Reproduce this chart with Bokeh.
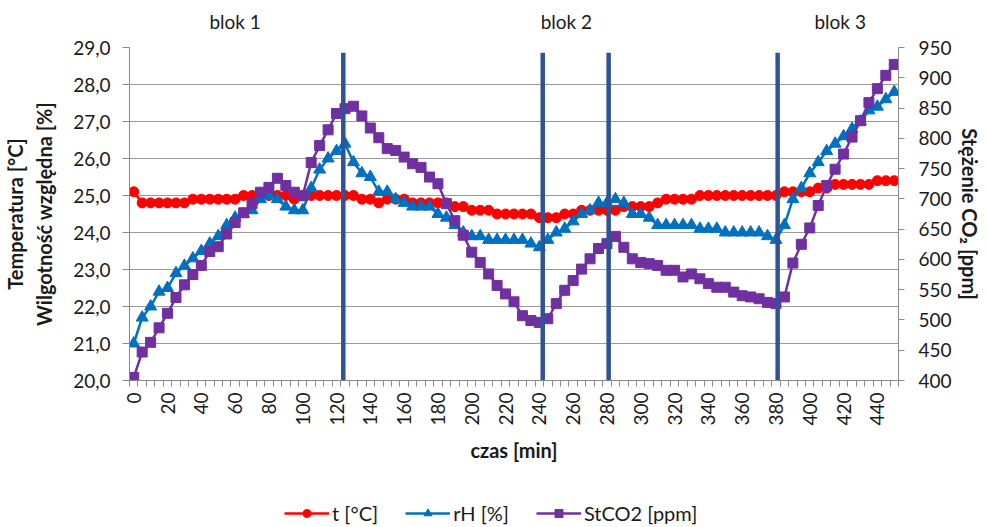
import numpy as np
from bokeh.plotting import figure
from bokeh.layouts import column
from bokeh.models import (Range1d, LinearAxis, FixedTicker, CustomJSTickFormatter,
                          Legend, LegendItem, ColumnDataSource)
from bokeh.embed import file_html
from bokeh.resources import INLINE

# ---------------- data ----------------
time_min = list(range(0, 451, 5))  # categories: 0..450 min every 5 min

temp = [25.1, 24.8, 24.8, 24.8, 24.8, 24.8, 24.8, 24.9, 24.9, 24.9,
        24.9, 24.9, 24.9, 25.0, 25.0, 25.0, 25.0, 25.0, 25.0, 24.9,
        25.0, 25.0, 25.0, 25.0, 25.0, 25.0, 25.0, 24.9, 24.9, 24.8,
        24.9, 24.9, 24.9, 24.8, 24.8, 24.8, 24.8, 24.8, 24.7, 24.7,
        24.6, 24.6, 24.6, 24.5, 24.5, 24.5, 24.5, 24.5, 24.4, 24.4,
        24.4, 24.5, 24.5, 24.6, 24.6, 24.6, 24.6, 24.6, 24.7, 24.7,
        24.7, 24.7, 24.8, 24.9, 24.9, 24.9, 24.9, 25.0, 25.0, 25.0,
        25.0, 25.0, 25.0, 25.0, 25.0, 25.0, 25.0, 25.1, 25.1, 25.1,
        25.1, 25.2, 25.2, 25.3, 25.3, 25.3, 25.3, 25.3, 25.4, 25.4,
        25.4]

rh = [21.0, 21.7, 22.0, 22.4, 22.5, 22.9, 23.1, 23.3, 23.5, 23.7,
      23.9, 24.2, 24.4, 24.5, 24.6, 24.9, 25.0, 24.9, 24.7, 24.6,
      24.6, 25.2, 25.7, 26.0, 26.2, 26.4, 25.9, 25.6, 25.5, 25.1,
      25.1, 24.9, 24.8, 24.7, 24.7, 24.7, 24.5, 24.4, 24.2, 24.0,
      23.9, 23.9, 23.8, 23.8, 23.8, 23.8, 23.8, 23.7, 23.6, 23.8,
      24.0, 24.1, 24.3, 24.5, 24.6, 24.8, 24.8, 24.9, 24.8, 24.5,
      24.5, 24.4, 24.2, 24.2, 24.2, 24.2, 24.2, 24.1, 24.1, 24.1,
      24.0, 24.0, 24.0, 24.0, 24.0, 23.9, 23.8, 24.2, 24.9, 25.2,
      25.6, 25.9, 26.2, 26.4, 26.6, 26.8, 27.0, 27.3, 27.4, 27.6,
      27.8]

co2 = [405, 447, 463, 487, 511, 537, 558, 575, 590, 613,
       621, 642, 661, 677, 692, 711, 719, 734, 722, 711,
       705, 760, 788, 814, 841, 849, 853, 837, 817, 801,
       783, 780, 769, 758, 752, 736, 725, 692, 664, 640,
       612, 595, 576, 557, 543, 530, 507, 499, 496, 502,
       527, 549, 565, 584, 601, 618, 626, 638, 620, 601,
       595, 593, 590, 582, 582, 571, 576, 568, 560, 554,
       554, 546, 540, 538, 535, 529, 527, 538, 594, 625,
       652, 689, 722, 749, 774, 802, 829, 859, 882, 904,
       922]

left_ticks = [20, 21, 22, 23, 24, 25, 26, 27, 28, 29]
right_ticks = [400, 450, 500, 550, 600, 650, 700, 750, 800, 850, 900, 950]
x_label_ticks = list(range(0, 441, 20))

block_lines = [124, 242, 281, 381]
block_labels = ["blok 1", "blok 2", "blok 3"]
block_label_x = [60, 256, 418]

series_names = ["t [°C]", "rH [%]", "StCO2 [ppm]"]
series_cols = ["temp", "rh", "co2"]

# ---------------- style ----------------
FONT = "Lato"
TXT = "#1a1a1a"
RED = "#FF0000"
BLUE = "#0070C0"
PURPLE = "#7030A0"
BLOCK = "#2F5496"
GRID = "#9a9a9a"
AX = "#8a8a8a"
TICK_FS = "19px"
TITLE_FS = "20px"

p = figure(width=988, height=494,
           x_range=Range1d(-2.5, 452.5), y_range=Range1d(20, 29),
           output_backend="svg", toolbar_location=None,
           min_border_left=128, min_border_right=90,
           min_border_top=47, min_border_bottom=114,
           background_fill_color="white", border_fill_color="white")
p.outline_line_color = None
p.extra_y_ranges = {"co2": Range1d(400, 950)}

# grid
p.xgrid.visible = False
p.ygrid.grid_line_color = GRID
p.ygrid.grid_line_width = 1
p.ygrid.ticker = FixedTicker(ticks=left_ticks)

# left axis
ya = p.yaxis[0]
ya.ticker = FixedTicker(ticks=left_ticks)
ya.formatter = CustomJSTickFormatter(code="return tick.toFixed(1).replace('.', ',');")
ya.axis_label = "Temperatura [°C]\nWilgotność względna [%]"
ya.axis_label_text_font = FONT
ya.axis_label_text_font_style = "bold"
ya.axis_label_text_font_size = TITLE_FS
ya.axis_label_text_color = TXT
ya.axis_label_standoff = 14
ya.major_label_text_font = FONT
ya.major_label_text_font_size = TICK_FS
ya.major_label_text_color = TXT
ya.major_label_standoff = 12
ya.major_tick_out = 7
ya.major_tick_in = 0
ya.minor_tick_out = 0
ya.minor_tick_in = 0
ya.axis_line_color = AX
ya.major_tick_line_color = AX

# bottom axis
xa = p.xaxis[0]
minor = [-2.5 + 5 * k for k in range(92)]
xa.ticker = FixedTicker(ticks=x_label_ticks, minor_ticks=minor)
xa.major_label_orientation = np.pi / 2
xa.major_label_text_font = FONT
xa.major_label_text_font_size = TICK_FS
xa.major_label_text_color = TXT
xa.major_label_standoff = 6
xa.major_tick_out = 0
xa.major_tick_in = 0
xa.minor_tick_out = 6
xa.minor_tick_in = 0
xa.minor_tick_line_color = AX
xa.axis_line_color = AX
xa.axis_label = "czas [min]"
xa.axis_label_text_font = FONT
xa.axis_label_text_font_style = "bold"
xa.axis_label_text_font_size = TITLE_FS
xa.axis_label_text_color = TXT
xa.axis_label_standoff = 9

# right axis
ra = LinearAxis(y_range_name="co2", ticker=FixedTicker(ticks=right_ticks),
                axis_label="Stężenie CO₂ [ppm]")
ra.axis_label_text_font = FONT
ra.axis_label_text_font_style = "bold"
ra.axis_label_text_font_size = TITLE_FS
ra.axis_label_text_color = TXT
ra.axis_label_standoff = 3
ra.major_label_text_font = FONT
ra.major_label_text_font_size = TICK_FS
ra.major_label_text_color = TXT
ra.major_label_standoff = 14
ra.major_tick_out = 6
ra.major_tick_in = 0
ra.minor_tick_out = 0
ra.minor_tick_in = 0
ra.axis_line_color = AX
ra.major_tick_line_color = AX
p.add_layout(ra, "right")

# top "axis" carrying the block names
ta = LinearAxis(ticker=FixedTicker(ticks=block_label_x),
                major_label_overrides={x: s for x, s in zip(block_label_x, block_labels)})
ta.axis_line_color = None
ta.major_tick_line_color = None
ta.minor_tick_line_color = None
ta.major_tick_out = 0
ta.major_label_standoff = 15
ta.major_label_text_font = FONT
ta.major_label_text_font_size = TICK_FS
ta.major_label_text_color = TXT
p.add_layout(ta, "above")

# series
src = ColumnDataSource(dict(t=time_min, temp=temp, rh=rh, co2=co2))
styles = [(RED, "circle", 10), (BLUE, "triangle", 12), (PURPLE, "square", 10)]
for colname, (col, mk, sz) in zip(series_cols, styles):
    kw = {"y_range_name": "co2"} if colname == "co2" else {}
    p.line("t", colname, source=src, line_color=col, line_width=2.5, **kw)
    p.scatter("t", colname, source=src, marker=mk, size=sz,
              fill_color=col, line_color=col, **kw)

# block separators
p.segment(x0=block_lines, y0=[20] * len(block_lines),
          x1=block_lines, y1=[28.86] * len(block_lines),
          line_color=BLOCK, line_width=4.5)

# ---------------- legend strip (separate figure; data kept out of view) ----------------
lg = figure(width=988, height=33, output_backend="svg", toolbar_location=None,
            min_border=0, background_fill_color="white",
            border_fill_color="white", x_axis_type=None, y_axis_type=None,
            x_range=Range1d(-2000, -1999), y_range=Range1d(-2000, -1999))
lg.outline_line_color = None
lg.grid.visible = False
items = []
for name, colname, (col, mk, sz) in zip(series_names, series_cols, styles):
    ln = lg.line("t", colname, source=src, line_color=col, line_width=2.5)
    sc = lg.scatter("t", colname, source=src, marker=mk, size=sz,
                    fill_color=col, line_color=col)
    items.append(LegendItem(label=name, renderers=[ln, sc]))
# location = bottom-left corner of the legend box, relative to the strip's frame
legend = Legend(items=items, orientation="horizontal", location=(155, 2),
                glyph_width=45, glyph_height=20, label_standoff=3, spacing=27,
                padding=0, margin=0, border_line_color=None,
                background_fill_alpha=0,
                label_text_font=FONT, label_text_font_size="20px",
                label_text_color=TXT)
lg.add_layout(legend, "center")

open("out.html", "w").write(file_html(column(p, lg, spacing=0), INLINE))
